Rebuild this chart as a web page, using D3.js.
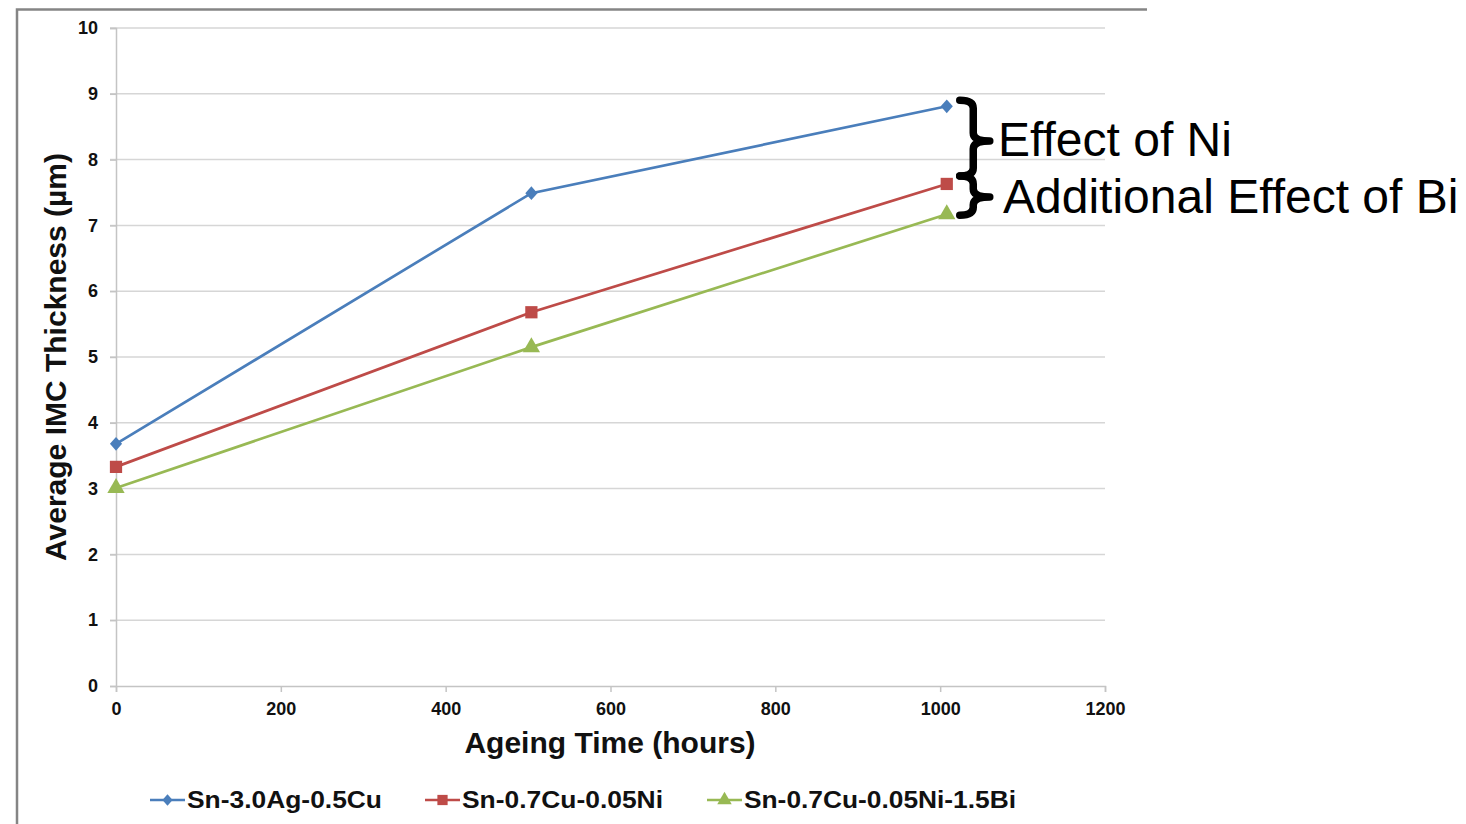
<!DOCTYPE html>
<html>
<head>
<meta charset="utf-8">
<script src="https://cdn.jsdelivr.net/npm/d3@7"></script>
<style>
  body { margin: 0; background: #fff; }
  svg { display: block; font-family: "Liberation Sans", Arial, sans-serif; }
</style>
</head>
<body>
<div class="visualization"></div>
<script>
// data
const hours = [0, 504, 1008];
const sac305 = [3.68, 7.49, 8.81];
const snCuNi = [3.33, 5.68, 7.63];
const snCuNiBi = [3.01, 5.15, 7.17];
const seriesNames = ["Sn-3.0Ag-0.5Cu", "Sn-0.7Cu-0.05Ni", "Sn-0.7Cu-0.05Ni-1.5Bi"];
const xTicks = [0, 200, 400, 600, 800, 1000, 1200];
const yTicks = [0, 1, 2, 3, 4, 5, 6, 7, 8, 9, 10];

const canvaswidth = 1466;
const canvasheight = 824;
const colors = ["#4a7ebb", "#be4b48", "#98b954"];
const shapes = [d3.symbolSquare, d3.symbolSquare, d3.symbolTriangle];
const shapeSizes = [95, 150, 130];
// blue markers are squares turned into a diamond
const shapeXform = [" scale(0.88,1) rotate(45)", "", ""];

var svg = d3.select(".visualization").append("svg")
  .attr("width", canvaswidth)
  .attr("height", canvasheight);

// outer frame (only top and left visible)
svg.append("path")
  .attr("d", "M17,824 L17,9.5 L1147,9.5")
  .attr("fill", "none")
  .attr("stroke", "#858585")
  .attr("stroke-width", 2.5);

var x = d3.scaleLinear().domain([0, 1200]).range([116, 1105]);
var y = d3.scaleLinear().domain([0, 10]).range([686, 28]);

// horizontal gridlines
svg.append("g").selectAll("line").data(yTicks.filter(d => d > 0)).enter().append("line")
  .attr("x1", x(0) - 6).attr("x2", x(1200))
  .attr("y1", d => y(d)).attr("y2", d => y(d))
  .attr("stroke", "#d6d6d6").attr("stroke-width", 1.5);

// y axis
var yaxis = d3.axisLeft(y).tickValues(yTicks).tickSize(6).tickPadding(12).tickFormat(d3.format("d"));
var gy = svg.append("g").attr("transform", "translate(" + x(0) + ",0)").call(yaxis);
gy.select(".domain").attr("stroke", "#c4c4c4").attr("stroke-width", 1.5);
gy.selectAll(".tick line").attr("stroke", "#c4c4c4").attr("stroke-width", 1.5);
gy.selectAll(".tick text").attr("font-size", 18).attr("font-weight", "bold").attr("fill", "#111")
  .attr("font-family", "Liberation Sans, Arial, sans-serif");

// x axis
var xaxis = d3.axisBottom(x).tickValues(xTicks).tickSize(6).tickSizeOuter(6).tickPadding(10).tickFormat(d3.format("d"));
var gx = svg.append("g").attr("transform", "translate(0," + y(0) + ")").call(xaxis);
gx.select(".domain").attr("stroke", "#c4c4c4").attr("stroke-width", 1.5);
gx.selectAll(".tick line").attr("stroke", "#c4c4c4").attr("stroke-width", 1.5);
gx.selectAll(".tick text").attr("font-size", 18).attr("font-weight", "bold").attr("fill", "#111")
  .attr("font-family", "Liberation Sans, Arial, sans-serif");

// axis titles
svg.append("text")
  .attr("x", 610).attr("y", 753)
  .attr("text-anchor", "middle")
  .attr("font-size", 30).attr("font-weight", "bold").attr("fill", "#111")
  .text("Ageing Time (hours)");

svg.append("text")
  .attr("transform", "translate(66," + 357 + ") rotate(-90)")
  .attr("text-anchor", "middle")
  .attr("font-size", 30).attr("font-weight", "bold").attr("fill", "#111")
  .text("Average IMC Thickness (µm)");

// series
var allSeries = [sac305, snCuNi, snCuNiBi];
var line = d3.line().x((d, i) => x(hours[i])).y(d => y(d));

allSeries.forEach(function (vals, s) {
  svg.append("path")
    .datum(vals)
    .attr("d", line)
    .attr("fill", "none")
    .attr("stroke", colors[s])
    .attr("stroke-width", 2.7);

  svg.append("g").selectAll("path").data(vals).enter().append("path")
    .attr("transform", (d, i) => "translate(" + x(hours[i]) + "," + y(d) + ")" + shapeXform[s])
    .attr("d", d3.symbol().type(shapes[s]).size(shapeSizes[s]))
    .attr("fill", colors[s]);
});

// legend
var legendX = [150, 425, 707];
var legendW = [195, 201, 272];
var legend = svg.append("g").attr("transform", "translate(0,800)");
seriesNames.forEach(function (name, s) {
  var g = legend.append("g").attr("transform", "translate(" + legendX[s] + ",0)");
  g.append("line").attr("x1", 0).attr("x2", 35).attr("y1", 0).attr("y2", 0)
    .attr("stroke", colors[s]).attr("stroke-width", 2.7);
  g.append("path")
    .attr("transform", "translate(17.5,0)" + shapeXform[s])
    .attr("d", d3.symbol().type(shapes[s]).size(shapeSizes[s] * 0.7))
    .attr("fill", colors[s]);
  g.append("text")
    .attr("x", 37).attr("y", 8)
    .attr("font-size", 23).attr("font-weight", "bold").attr("fill", "#111")
    .attr("textLength", legendW[s]).attr("lengthAdjust", "spacingAndGlyphs")
    .text(name);
});

// braces annotation
function brace(bx, y0, y1, ym, w) {
  var h = w * 0.45;
  return "M" + bx + "," + y0 +
    " Q" + (bx + h) + "," + y0 + " " + (bx + h) + "," + (y0 + 8) +
    " L" + (bx + h) + "," + (ym - 8) +
    " Q" + (bx + h) + "," + ym + " " + (bx + w) + "," + ym +
    " Q" + (bx + h) + "," + ym + " " + (bx + h) + "," + (ym + 8) +
    " L" + (bx + h) + "," + (y1 - 8) +
    " Q" + (bx + h) + "," + y1 + " " + bx + "," + y1;
}
var lastX = x(hours[2]);
var top1 = y(sac305[2]) - 6, bot1 = y(snCuNi[2]) - 8;
var top2 = bot1, bot2 = y(snCuNiBi[2]) + 1;
svg.append("path")
  .attr("d", brace(lastX + 13, top1, bot1, 141, 30))
  .attr("fill", "none").attr("stroke", "#000").attr("stroke-width", 7.5)
  .attr("stroke-linecap", "round").attr("stroke-linejoin", "round");
svg.append("path")
  .attr("d", brace(lastX + 13, top2, bot2, 197, 30))
  .attr("fill", "none").attr("stroke", "#000").attr("stroke-width", 7.5)
  .attr("stroke-linecap", "round").attr("stroke-linejoin", "round");

svg.append("text")
  .attr("x", 998).attr("y", 156)
  .attr("font-size", 48).attr("fill", "#000")
  .text("Effect of Ni");
svg.append("text")
  .attr("x", 1003).attr("y", 213)
  .attr("font-size", 48).attr("fill", "#000")
  .text("Additional Effect of Bi");
</script>
</body>
</html>
